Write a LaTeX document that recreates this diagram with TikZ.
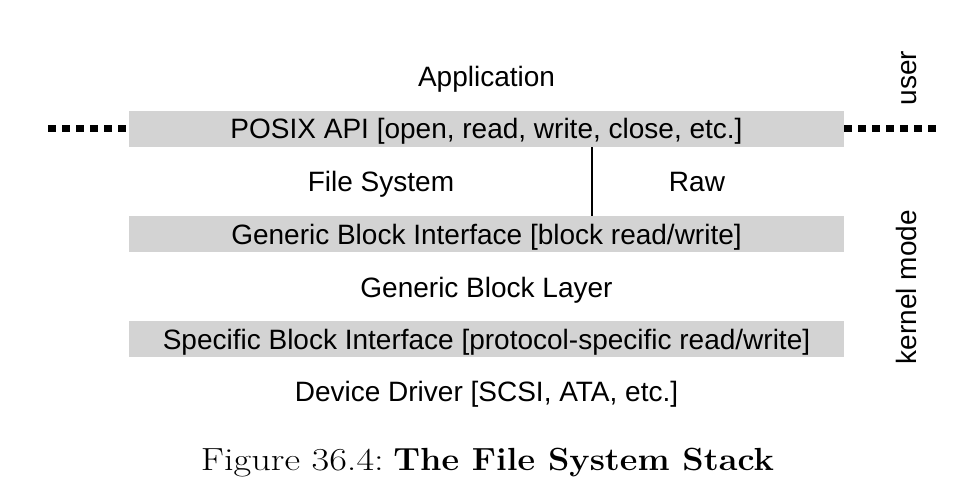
\documentclass[tikz,border=0pt]{standalone}
\usepackage{fontspec}
\setsansfont{Liberation Sans}
\definecolor{boxgray}{HTML}{D3D3D3}
\begin{document}
\begin{tikzpicture}[x=1pt,y=-1pt,
  lbl/.style={font=\fontsize{28}{30}\selectfont\sffamily, inner sep=0pt, text=black, anchor=base},
  graybox/.style={font=\fontsize{28}{30}\selectfont\sffamily, inner sep=0pt, fill=boxgray,
    minimum width=715pt, minimum height=36pt, text height=20pt, text depth=0pt, anchor=center},
  dotline/.style={line width=7pt, dash pattern=on 7.5pt off 6.5pt},
  sideline/.style={line width=2pt}]
\useasboundingbox (0,0) rectangle (970,494);
\node[lbl] (app) at (486.5,86.5) {Application};
\node[graybox] (posix) at (486.5,129) {POSIX API [open, read, write, close, etc.]};
\node[lbl] (fs) at (381,192) {File System};
\node[lbl] (raw) at (697,192) {Raw};
\node[graybox] (gbi) at (486.5,234.3) {Generic Block Interface [block read/write]};
\node[lbl] (gbl) at (486.5,298) {Generic Block Layer};
\node[graybox] (sbi) at (486.5,339.3) {Specific Block Interface [protocol-specific read/write]};
\node[lbl] (dd) at (486.5,401.5) {Device Driver [SCSI, ATA, etc.]};
\node[lbl, rotate=90] (user) at (916.5,78) {user};
\node[lbl, rotate=90] (kernel) at (916.5,287) {kernel mode};
\node[font=\fontsize{32}{34}\selectfont, inner sep=0pt, anchor=base] (cap) at (487.5,471)
  {\scalebox{1.2}[1]{Figure 36.4:} \scalebox{1.07}[1]{\textbf{The File System Stack}}};
\coordinate (dl) at (48,129);
\coordinate (dr) at (942,129);
\draw[dotline] (dl) -- (posix.west);
\draw[dotline] (posix.east) -- (dr);
\draw[sideline] (posix.south -| 592,0) -- (gbi.north -| 592,0);
\end{tikzpicture}
\end{document}
